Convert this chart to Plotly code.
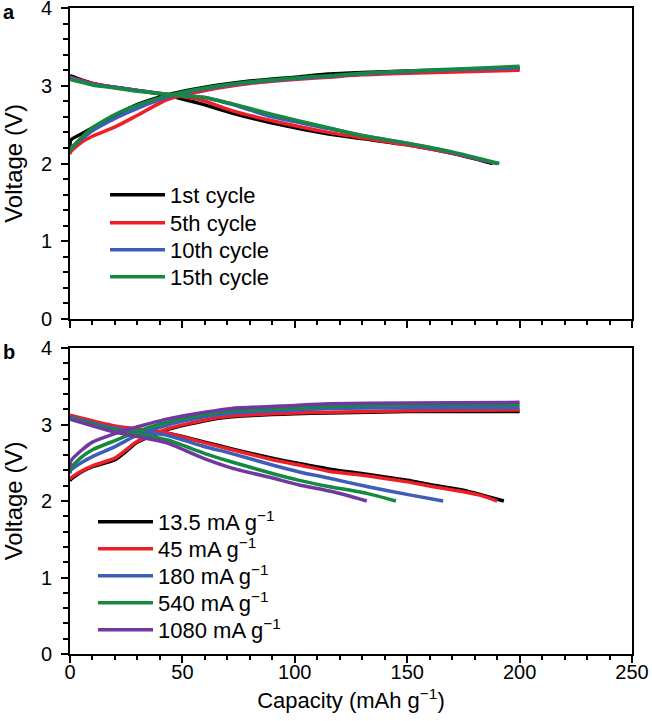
import plotly.graph_objects as go

# ---------------- data ----------------
# Panel a: cycles at constant current
cyc_names = ["1st cycle", "5th cycle", "10th cycle", "15th cycle"]
cyc_colors = ["#000000", "#ee1f26", "#3d5db8", "#14893f"]

a_ch_cap = [0, 0.3, 5, 10, 20, 30, 43, 60, 80, 100, 115, 130, 150, 175, 200]
a_ch_v = [
    [2.22, 2.30, 2.38, 2.46, 2.62, 2.76, 2.88, 2.98, 3.06, 3.11, 3.15, 3.17, 3.19, 3.21, 3.22],
    [2.12, 2.15, 2.27, 2.35, 2.47, 2.62, 2.82, 2.94, 3.03, 3.08, 3.11, 3.14, 3.16, 3.18, 3.20],
    [2.16, 2.20, 2.31, 2.42, 2.58, 2.71, 2.85, 2.96, 3.04, 3.09, 3.12, 3.15, 3.18, 3.21, 3.23],
    [2.14, 2.18, 2.33, 2.46, 2.63, 2.75, 2.87, 2.97, 3.05, 3.10, 3.13, 3.16, 3.19, 3.22, 3.25],
]
a_dis_cap = [
    [0, 10, 20, 30, 43, 50, 58, 72, 90, 115, 130, 150, 170, 188],
    [0, 10, 20, 30, 43, 50, 58, 72, 90, 115, 130, 150, 170, 190],
    [0, 10, 20, 30, 43, 50, 60, 72, 90, 115, 130, 150, 170, 190],
    [0, 10, 20, 30, 43, 50, 60, 72, 90, 115, 130, 150, 170, 191],
]
a_dis_v = [
    [3.13, 3.03, 2.98, 2.94, 2.88, 2.83, 2.77, 2.65, 2.52, 2.38, 2.32, 2.24, 2.13, 2.00],
    [3.11, 3.03, 2.98, 2.94, 2.89, 2.86, 2.82, 2.68, 2.55, 2.40, 2.33, 2.24, 2.13, 2.00],
    [3.10, 3.02, 2.98, 2.94, 2.89, 2.87, 2.85, 2.76, 2.60, 2.45, 2.36, 2.26, 2.14, 2.00],
    [3.08, 3.01, 2.97, 2.93, 2.89, 2.87, 2.85, 2.77, 2.63, 2.46, 2.36, 2.26, 2.15, 2.00],
]

# Panel b: rate capability
rate_names = ["13.5 mA g<sup>−1</sup>", "45 mA g<sup>−1</sup>", "180 mA g<sup>−1</sup>",
              "540 mA g<sup>−1</sup>", "1080 mA g<sup>−1</sup>"]
rate_colors = ["#000000", "#ee1f26", "#3d5db8", "#14893f", "#7138a0"]

b_ch_cap = [0, 0.3, 5, 10, 20, 25, 30, 43, 60, 72, 100, 115, 150, 200]
b_ch_v = [
    [2.26, 2.28, 2.38, 2.45, 2.54, 2.65, 2.77, 2.93, 3.05, 3.10, 3.14, 3.15, 3.17, 3.17],
    [2.28, 2.30, 2.39, 2.46, 2.56, 2.67, 2.78, 2.94, 3.06, 3.11, 3.15, 3.16, 3.18, 3.19],
    [2.36, 2.40, 2.50, 2.58, 2.71, 2.79, 2.86, 2.99, 3.10, 3.15, 3.19, 3.21, 3.22, 3.22],
    [2.38, 2.43, 2.57, 2.67, 2.79, 2.85, 2.91, 3.03, 3.13, 3.18, 3.22, 3.24, 3.26, 3.26],
    [2.42, 2.52, 2.66, 2.77, 2.88, 2.93, 2.97, 3.07, 3.16, 3.21, 3.25, 3.27, 3.28, 3.29],
]
b_dis_cap = [
    [0, 20, 43, 60, 72, 90, 102, 115, 132, 150, 161, 175, 183, 193],
    [0, 20, 43, 60, 72, 90, 102, 115, 132, 150, 161, 175, 183, 190],
    [0, 20, 43, 60, 72, 90, 102, 115, 132, 151, 166],
    [0, 20, 43, 60, 72, 90, 102, 115, 132, 145],
    [0, 20, 43, 60, 72, 90, 102, 117, 132],
]
b_dis_v = [
    [3.11, 2.97, 2.89, 2.77, 2.68, 2.56, 2.49, 2.42, 2.35, 2.27, 2.21, 2.14, 2.08, 2.00],
    [3.12, 2.98, 2.89, 2.76, 2.67, 2.54, 2.47, 2.39, 2.33, 2.25, 2.19, 2.12, 2.07, 2.00],
    [3.10, 2.95, 2.86, 2.71, 2.62, 2.47, 2.38, 2.30, 2.19, 2.08, 2.00],
    [3.08, 2.93, 2.80, 2.62, 2.51, 2.36, 2.27, 2.19, 2.10, 2.00],
    [3.07, 2.90, 2.76, 2.55, 2.43, 2.30, 2.21, 2.12, 2.00],
]

x_ticks = [0, 50, 100, 150, 200, 250]
y_ticks = [0, 1, 2, 3, 4]

# ---------------- figure ----------------
FONT = "Liberation Sans, Arial, sans-serif"
LW = 3.5
H_TOP, H_BOT = 8, 67
PLOT_H = 721 - H_TOP - H_BOT
PLOT_W = 652 - 70 - 20


def px_x(v):
    return (v - 70) / PLOT_W


def px_y(v):
    return (654 - v) / PLOT_H


fig = go.Figure()
legend_layouts = {}
LEG_ROWS_A = [195, 223, 250, 277]
LEG_ROWS_B = [522, 549, 576, 603, 630]


def leg_id(k):
    return "legend" if k == 0 else f"legend{k + 1}"


def leg_layout(x_text, y_row):
    return dict(x=px_x(x_text - 65), y=px_y(y_row), xanchor="left", yanchor="middle",
                bgcolor="rgba(0,0,0,0)", borderwidth=0, itemwidth=55,
                font=dict(family=FONT, size=22, color="black"))


k = 0
for i, name in enumerate(cyc_names):
    lid = leg_id(k)
    legend_layouts[lid] = leg_layout(170, LEG_ROWS_A[i])
    fig.add_trace(go.Scatter(x=a_ch_cap, y=a_ch_v[i], mode="lines", name=name,
                             line=dict(color=cyc_colors[i], width=LW, shape="spline", smoothing=0.6),
                             legendgroup=name, legend=lid, xaxis="x", yaxis="y"))
    fig.add_trace(go.Scatter(x=a_dis_cap[i], y=a_dis_v[i], mode="lines", name=name,
                             line=dict(color=cyc_colors[i], width=LW, shape="spline", smoothing=0.6),
                             legendgroup=name, legend=lid, showlegend=False, xaxis="x", yaxis="y"))
    k += 1

for i, name in enumerate(rate_names):
    lid = leg_id(k)
    legend_layouts[lid] = leg_layout(158, LEG_ROWS_B[i])
    fig.add_trace(go.Scatter(x=b_ch_cap, y=b_ch_v[i], mode="lines", name=name,
                             line=dict(color=rate_colors[i], width=LW, shape="spline", smoothing=0.6),
                             legendgroup=name, legend=lid, xaxis="x2", yaxis="y2"))
    fig.add_trace(go.Scatter(x=b_dis_cap[i], y=b_dis_v[i], mode="lines", name=name,
                             line=dict(color=rate_colors[i], width=LW, shape="spline", smoothing=0.6),
                             legendgroup=name, legend=lid, showlegend=False, xaxis="x2", yaxis="y2"))
    k += 1

dom_a = [px_y(319), 1.0]
dom_b = [0.0, px_y(348)]

common_x = dict(range=[0, 250], tickvals=x_ticks, ticks="outside", ticklen=7, tickwidth=2,
                tickcolor="black", showline=True, linewidth=2, linecolor="black", mirror=True,
                showgrid=False, zeroline=False, automargin=False, ticklabelstandoff=-8,
                ticklabeloverflow="allow",
                minor=dict(dtick=10, ticks="outside", ticklen=4, tickwidth=1.5, tickcolor="black"),
                tickfont=dict(family=FONT, size=20, color="black"))
common_y = dict(range=[0, 4], tickvals=y_ticks, ticks="outside", ticklen=7, tickwidth=2,
                tickcolor="black", showline=True, linewidth=2, linecolor="black", mirror=True,
                showgrid=False, zeroline=False, automargin=False, ticklabelstandoff=5,
                ticklabeloverflow="allow",
                minor=dict(dtick=0.2, ticks="outside", ticklen=5, tickwidth=1.5, tickcolor="black"),
                tickfont=dict(family=FONT, size=20, color="black"),
                title=dict(text="Voltage (V)", font=dict(family=FONT, size=24, color="black"),
                           standoff=11))

fig.update_layout(
    width=652, height=721,
    margin=dict(l=70, r=20, t=H_TOP, b=H_BOT, autoexpand=False),
    paper_bgcolor="white", plot_bgcolor="white",
    font=dict(family=FONT, size=20, color="black"),
    xaxis=dict(domain=[0, 1], anchor="y", showticklabels=False, **common_x),
    yaxis=dict(domain=dom_a, anchor="x", **common_y),
    xaxis2=dict(domain=[0, 1], anchor="y2",
                title=dict(text="Capacity (mAh g<sup>−1</sup>)",
                           font=dict(family=FONT, size=22, color="black"), standoff=11),
                **common_x),
    yaxis2=dict(domain=dom_b, anchor="x2", **common_y),
    annotations=[
        dict(text="<b>a</b>", xref="paper", yref="paper", x=px_x(1),
             y=px_y(12), xanchor="left", yanchor="middle", showarrow=False,
             font=dict(family=FONT, size=20, color="black")),
        dict(text="<b>b</b>", xref="paper", yref="paper", x=px_x(1),
             y=px_y(352), xanchor="left", yanchor="middle", showarrow=False,
             font=dict(family=FONT, size=20, color="black")),
    ],
    showlegend=True,
    **legend_layouts,
)

fig.write_html("out.html", config={"displayModeBar": False},
               post_script="document.body.style.margin='0px';")
